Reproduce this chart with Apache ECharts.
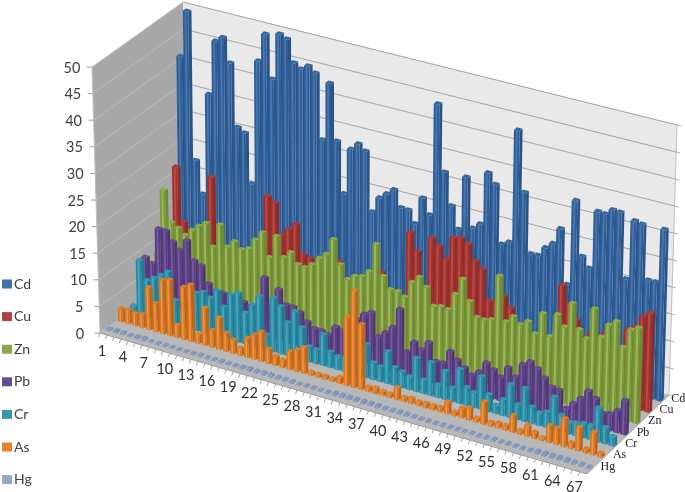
<!DOCTYPE html>
<html><head><meta charset="utf-8">
<style>html,body{margin:0;padding:0;background:#fff}#c{width:685px;height:492px}</style>
<script src="https://cdn.jsdelivr.net/npm/echarts@6/dist/echarts.min.js"></script></head>
<body><div id="c"></div>
<script>
const Cd=[41.1,49.8,22.5,16.6,35.4,45.6,46.6,42.2,30.6,29.9,20.8,43.9,49.2,41.2,49.9,49.3,45.2,44.4,45.3,44.3,32.3,43.1,32.7,23.3,31.9,33.2,32.2,21.3,24.2,25.3,26.4,23.4,23.3,21.1,26.2,23.4,44.3,32,26.1,22.1,32.1,23,24.1,33.9,32.1,21.4,22.1,43.2,32,20.9,21,22.8,23.9,27,17,32.9,22.9,21,31.9,31.8,32.9,32.8,20.8,31.9,31.6,21.6,21.6,31.7];
const Cu=[8,22.6,12.7,11,11,11,22.4,9,9,9,9,9,10,13,21.5,20.7,15,16.4,17.7,12.4,12,8,9,9,12.9,8,8,8,8,8,12.9,8,8,8,21.7,18.5,9,21.7,20.5,18.4,22.7,23.1,22.3,19.5,18.3,12.8,13.1,14.4,12.5,8,8,8,8,8,8,19.2,16,13.4,10,11.5,10,12.6,10,10,14.2,15,17.2,18.3];
const Zn=[8,20,14.3,13.6,12.6,13.9,15,15.9,11.8,16.3,12.5,13.8,12.7,13.2,15.2,16.9,12.6,16.9,13.3,14.6,12.7,12.5,13.4,14.9,16,19.1,14.8,12.4,13.3,13.6,14.9,20.3,14.7,12.6,12.6,11.9,15,16.3,14.8,11.6,11.9,11.7,14.9,18.1,14.3,11.7,11.6,12,20.4,12.3,13.6,12.5,13.4,11.5,15.6,11.7,16.1,14.2,18.9,14.4,13.1,19,14.1,16.7,17.7,13.3,16.9,17.6];
const Pb=[8.8,8,14.8,14.8,13.1,11.9,14,10.6,10,7,6,6,6,6,5.4,5,5,11,6,9.5,7,7,6.3,4.9,4,4,3.6,5.4,5,5,7.9,9.2,9.9,5.8,6.9,8.2,11.9,4.4,6.5,5.5,7.2,4,4.1,6.6,5.4,4.3,3.3,4.3,6.3,5.4,4.4,6.5,5.2,7.8,8.7,7.8,6.4,5.1,4.9,1.9,3.2,4.5,6.2,5.2,2.8,3.1,4.1,6.3];
const Cr=[1.4,10.2,6.8,7.6,8.5,9.5,4.5,3,3.4,7,7.5,6.8,8.5,5.8,8.5,9.2,5.8,7.7,9.6,2.8,10,8.8,6.2,8.6,6,2.8,2.6,5.8,2.9,2.4,2.5,2.5,2.5,6.1,3.1,2.7,5.9,3.3,2.9,2.3,6.1,2.5,6.1,2.3,5.2,2.5,6.3,3.3,2.7,6.1,3.1,1.5,2.9,6.1,2.7,6.1,3,2.3,2.8,6,3,2.1,2.3,2.6,2.6,6.2,3,1.7];
const As=[2.5,2.6,2.3,2.5,7.9,5.3,10,10.4,2.3,9.8,10.6,1.7,7,3.2,5.9,3.4,2.5,1.4,3.6,4.6,5.5,2.7,1.7,1.4,3.3,4,4.8,.6,.6,.6,.5,1.2,12.7,18,12.1,.8,1,.8,.7,2.2,.8,1,.7,.8,.8,.8,2.2,.7,1.8,2.2,.7,4.1,.7,.9,.9,3.1,.7,2,1.1,.5,3.1,3.1,5.2,1.1,4.3,.7,4.2,.7];
const Hg=[.3,.4,.4,.2,.3,.4,.2,.2,.2,.2,.2,.2,.2,.3,.2,.2,.3,.2,.2,.3,.4,.3,.4,.4,.3,.3,.3,.2,.2,.2,.2,.2,.4,.4,.4,.4,.4,.4,.4,.3,.3,.3,.3,.2,.2,.2,.2,.2,.2,.2,.2,.2,.2,.2,.3,.2,.2,.2,.2,.2,.4,.4,.4,.4,.4,.3,.3,.2];
const categories=Cd.map((_,i)=>String(i+1));
const rowNames=['Hg','As','Cr','Pb','Zn','Cu','Cd'];
const yTicks=[0,5,10,15,20,25,30,35,40,45,50];
const rows=[
 {name:'Cd',values:Cd,depth:6,deep:.24,wide:.78,side:'#2a5488',front:'#2f5d94',stripe:'#4577b4',top:'#386898',legend:'#3f71ad'},
 {name:'Cu',values:Cu,depth:5,deep:.24,wide:.78,side:'#8e2b27',front:'#a2312c',stripe:'#bb4a46',top:'#ad3a35',legend:'#b0403c'},
 {name:'Zn',values:Zn,depth:4,deep:.24,wide:.78,side:'#6f8a35',front:'#7c993a',stripe:'#9aba5a',top:'#8cab48',legend:'#8aa84a'},
 {name:'Pb',values:Pb,depth:3,deep:.24,wide:.78,side:'#4e3673',front:'#593d84',stripe:'#7559a0',top:'#654a90',legend:'#664a92'},
 {name:'Cr',values:Cr,depth:2,deep:.24,wide:.78,side:'#237b8f',front:'#2a8ba3',stripe:'#45a6c0',top:'#3797ae',legend:'#3a97b0'},
 {name:'As',values:As,depth:1,deep:.24,wide:.66,side:'#bb671b',front:'#d9761f',stripe:'#f39343',top:'#e07f28',legend:'#e5822d'},
 {name:'Hg',values:Hg,depth:0,deep:.3,wide:.55,side:'#6f89b0',front:'#7f98bd',stripe:'#93aacb',top:'#8099bf',legend:'#94a9c6'}
];
const FL=[100,333],BL=[186,272],BR=[669,395],FR=[587,474];
const cFL=[92,67],cBL=[183,2],cBR=[677,125],cFR=[595,204];
const warp=0.03;
function bil(a,b,c,e,u,d){const lx=a[0]+(b[0]-a[0])*d,ly=a[1]+(b[1]-a[1])*d,rx=e[0]+(c[0]-e[0])*d,ry=e[1]+(c[1]-e[1])*d;return [lx+(rx-lx)*u,ly+(ry-ly)*u];}
function P(u,d,t){const w=u/(1+warp*(1-u));const f=bil(FL,BL,BR,FR,w,d),c=bil(cFL,cBL,cBR,cFR,w,d);return [f[0]+(c[0]-f[0])*t,f[1]+(c[1]-f[1])*t];}
function poly(pts,fill){return {type:'polygon',shape:{points:pts},style:{fill:fill,stroke:null},silent:true};}
function frac(api,v){const a=api.coord([0,0])[1],b=api.coord([0,50])[1];return (a-api.coord([0,v])[1])/(a-b);}
function uOf(p,api,i){const c=p.coordSys;return (api.coord([i,0])[0]-c.x)/c.width;}
function barRender(row){return function(p,api){
  const i=api.value(0),v=api.value(1),c=p.coordSys;
  const cu=uOf(p,api,i),hw=api.size([1,0])[0]/c.width*row.wide/2;
  const u0=cu-hw,u1=cu+hw,dc=(row.depth+.5)/7,d0=dc-row.deep/14,d1=dc+row.deep/14,t=frac(api,v);
  const s0=u0+(u1-u0)*.33,s1=u0+(u1-u0)*.66;
  return {type:'group',children:[
    poly([P(u1,d0,0),P(u1,d1,0),P(u1,d1,t),P(u1,d0,t)],row.side),
    poly([P(u0,d0,0),P(u1,d0,0),P(u1,d0,t),P(u0,d0,t)],row.front),
    poly([P(s0,d0,0),P(s1,d0,0),P(s1,d0,t),P(s0,d0,t)],row.stripe),
    poly([P(u0,d0,t),P(u1,d0,t),P(u1,d1,t),P(u0,d1,t)],row.top)
  ]};
};}
function line(a,b,color,w){return {type:'line',shape:{x1:a[0],y1:a[1],x2:b[0],y2:b[1]},style:{stroke:color,lineWidth:w||1},silent:true};}
function txt(pos,s,font,color){return {type:'text',x:pos[0],y:pos[1],style:{text:s,font:font,fill:color||'#404040',textAlign:'center',textVerticalAlign:'middle'},silent:true};}
function wallRender(p,api){
  const v=api.value(1),t=frac(api,v),kids=[];
  if(v===0){
    kids.push(poly([P(0,0,0),P(0,1,0),P(0,1,1),P(0,0,1)],'#a8a8a8'));
    kids.push(poly([P(0,1,0),P(1,1,0),P(1,1,1),P(0,1,1)],'#e9e9e9'));
    kids.push(poly([P(0,0,0),P(1,0,0),P(1,1,0),P(0,1,0)],'#b8b8b8'));
    kids.push(line(P(0,0,1),P(0,1,1),'#c8c8c8',1));
    kids.push(line(P(0,1,1),P(1,1,1),'#a0a0a0',1));
    kids.push(line(P(1,1,1),P(1,1,0),'#c0c0c0',1));
    kids.push(line(P(0,0,1),P(0,0,0),'#c0c0c0',1));
    kids.push(line(P(0,0,0),P(1,0,0),'#9a9a9a',1));
    kids.push(line(P(1,0,0),P(1,1,0),'#a8a8a8',1));
  }
  if(v>0&&v<50){
    kids.push(line(P(0,0,t),P(0,1,t),'#bcbcbc',1));
    kids.push(line(P(0,1,t),P(1,1,t),'#a8a8a8',1.2));
  }
  const q=P(0,0,t),r=P(1,1,t);
  kids.push(line([q[0]-5,q[1]],q,'#a0a0a0',1));
  kids.push(line(r,[r[0]+4,r[1]+1],'#b0b0b0',1));
  kids.push(txt([q[0]-20,q[1]+1],String(v),'14.5px Lato','#404040'));
  return {type:'group',children:kids};
}
function xLabelRender(p,api){
  const i=api.value(0),cu=uOf(p,api,i),k=[];
  const b=P(cu-.5/68,0,0);
  k.push(line(b,[b[0]-1.5,b[1]+4],'#a0a0a0',1));
  if(i%3===0){const q=P(cu,0,0);k.push(txt([q[0]-1.5,q[1]+17],categories[i],'14.5px Lato','#303030'));}
  return {type:'group',children:k};
}
function depthRender(p,api){
  const k=api.value(0),q=P(1,(k+.5)/7,0);
  return txt([q[0]+15,q[1]-2],rowNames[k],'12px "Liberation Serif"','#202020');
}
const series=[
 {type:'custom',name:'walls',renderItem:wallRender,data:yTicks.map(v=>[0,v]),encode:{x:0,y:1},silent:true,z:1},
 {type:'custom',name:'xticks',renderItem:xLabelRender,data:categories.map((_,i)=>[i,0]),encode:{x:0,y:1},silent:true,z:2},
 {type:'custom',name:'depth',renderItem:depthRender,data:rowNames.map((_,k)=>[k,0]),encode:{x:0,y:1},silent:true,z:2}
];
rows.forEach((r,n)=>series.push({type:'custom',name:r.name,renderItem:barRender(r),data:r.values.map((v,i)=>[i,v]),encode:{x:0,y:1},itemStyle:{color:r.legend},z:3+n,clip:false}));
const chart=echarts.init(document.getElementById('c'),null,{renderer:'canvas'});
chart.setOption({
 animation:false,
 grid:{left:100,top:67,width:487,height:266},
 xAxis:{type:'category',data:categories,show:false},
 yAxis:{type:'value',min:0,max:50,interval:5,show:false},
 legend:{data:rows.map(r=>r.name),orient:'vertical',left:2,top:277,height:214,padding:0,itemWidth:10,itemHeight:9,itemGap:18.6,icon:'rect',
   textStyle:{fontFamily:'Lato',fontSize:14,color:'#404040',padding:[0,0,0,-3],lineHeight:14}},
 series:series
});
</script></body></html>
